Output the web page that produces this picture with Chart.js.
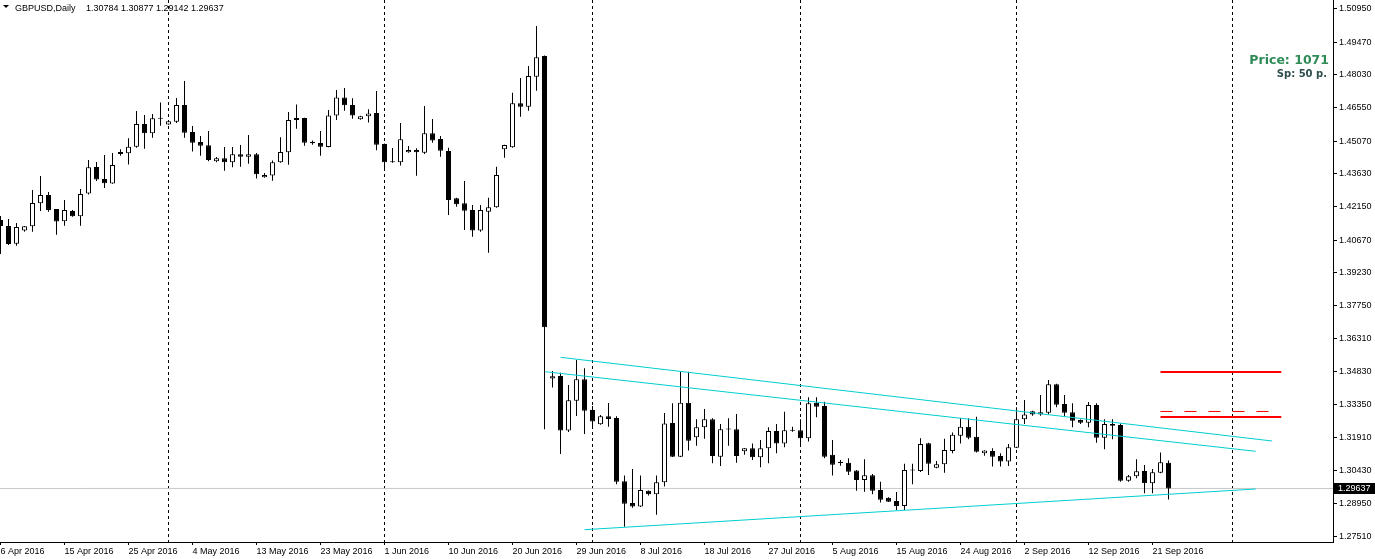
<!DOCTYPE html>
<html>
<head>
<meta charset="utf-8">
<title>GBPUSD Daily</title>
<script src="https://cdn.jsdelivr.net/npm/chart.js@4.4.1/dist/chart.umd.min.js"></script>
<style>
  html, body { margin: 0; padding: 0; background: #fff; }
  #wrap { width: 1375px; height: 559px; position: relative; }
</style>
</head>
<body>
<div id="wrap"><canvas id="chart"></canvas></div>
<script>
// GBPUSD daily bars, 6 Apr 2016 .. 23 Sep 2016 (broker feed includes Sunday bars)
const opens = [
  1.4157,1.4130,1.4052,1.4110,1.4129,1.4231,1.4268,1.4206,1.4151,1.4197,
  1.4174,1.4275,1.4393,1.4339,1.4319,1.4459,1.4454,1.4483,1.4584,1.4543,
  1.4609,1.4582,1.4594,1.4668,1.4548,1.4504,1.4489,1.4418,1.4431,1.4414,
  1.4449,1.4438,1.4449,1.4347,1.4355,1.4414,1.4458,1.4610,1.4610,1.4505,
  1.4499,1.4482,1.4622,1.4702,1.4668,1.4605,1.4618,1.4633,1.4495,1.4414,
  1.4414,1.4458,1.4468,1.4456,1.4543,1.4517,1.4464,1.4254,1.4231,1.4202,
  1.4110,1.4194,1.4214,1.4471,1.4480,1.4676,1.4661,1.4794,1.4886,1.3452,
  1.3464,1.3221,1.3354,1.3449,1.3313,1.3249,1.3285,1.3277,1.2996,1.2899,
  1.2883,1.2953,1.2938,1.2991,1.3255,1.3105,1.3345,1.3191,1.3236,1.3271,
  1.3105,1.3227,1.3227,1.3129,1.3142,1.3102,1.3142,1.3219,1.3164,1.3221,
  1.3222,1.3187,1.3345,1.3330,1.3113,1.3078,1.3078,1.3043,1.3001,1.3022,
  1.2957,1.2922,1.2908,1.2886,1.3045,1.3041,1.3165,1.3056,1.3071,1.3130,
  1.3198,1.3238,1.3194,1.3120,1.3130,1.3108,1.3083,1.3145,1.3271,1.3307,
  1.3293,1.3300,1.3427,1.3339,1.3302,1.3268,1.3256,1.3335,1.3189,1.3250,
  1.3246,1.2998,1.3018,1.3041,1.2987,1.3034,1.30784
];
const highs = [
  1.4175,1.4162,1.4144,1.4130,1.4290,1.4353,1.4281,1.4206,1.4246,1.4202,
  1.4295,1.4424,1.4415,1.4446,1.4455,1.4471,1.4520,1.4642,1.4624,1.4628,
  1.4679,1.4598,1.4699,1.4775,1.4575,1.4530,1.4553,1.4437,1.4482,1.4482,
  1.4491,1.4535,1.4455,1.4366,1.4421,1.4525,1.4637,1.4670,1.4612,1.4510,
  1.4553,1.4646,1.4735,1.4744,1.4698,1.4620,1.4649,1.4731,1.4497,1.4477,
  1.4588,1.4486,1.4476,1.4664,1.4606,1.4530,1.4478,1.4256,1.4330,1.4224,
  1.4224,1.4256,1.4394,1.4492,1.4723,1.4788,1.4842,1.5019,1.4888,1.3486,
  1.3478,1.3424,1.3535,1.3498,1.3330,1.3290,1.3344,1.3285,1.3021,1.3050,
  1.3021,1.2955,1.3021,1.3299,1.3342,1.3483,1.3483,1.3271,1.3317,1.3276,
  1.3250,1.3276,1.3295,1.3144,1.3164,1.3179,1.3236,1.3250,1.3305,1.3238,
  1.3271,1.3369,1.3369,1.3349,1.3179,1.3090,1.3098,1.3046,1.3093,1.3028,
  1.2994,1.2925,1.2948,1.3073,1.3073,1.3187,1.3167,1.3086,1.3185,1.3213,
  1.3277,1.3276,1.3283,1.3134,1.3142,1.3120,1.3161,1.3325,1.3357,1.3309,
  1.3379,1.3446,1.3429,1.3379,1.3342,1.3270,1.3348,1.3342,1.3271,1.3271,
  1.3253,1.3024,1.3093,1.3068,1.3050,1.3123,1.30877
];
const lows = [
  1.4006,1.4046,1.4043,1.4105,1.4105,1.4197,1.4194,1.4092,1.4132,1.4172,
  1.4132,1.4270,1.4330,1.4299,1.4318,1.4443,1.4404,1.4478,1.4474,1.4523,
  1.4576,1.4580,1.4588,1.4523,1.4461,1.4443,1.4418,1.4414,1.4376,1.4391,
  1.4394,1.4407,1.4341,1.4345,1.4332,1.4412,1.4403,1.4563,1.4487,1.4492,
  1.4443,1.4480,1.4602,1.4643,1.4607,1.4603,1.4591,1.4467,1.4381,1.4412,
  1.4399,1.4456,1.4354,1.4450,1.4501,1.4438,1.4179,1.4216,1.4113,1.4083,
  1.4105,1.4012,1.4212,1.4434,1.4478,1.4616,1.4643,1.4732,1.3227,1.3412,
  1.3117,1.3215,1.3286,1.3206,1.3238,1.3247,1.3238,1.2982,1.2794,1.2878,
  1.2881,1.2932,1.2847,1.2972,1.3103,1.3103,1.3132,1.3153,1.3185,1.3076,
  1.3064,1.3153,1.3078,1.3113,1.3090,1.3058,1.3076,1.3120,1.3147,1.3216,
  1.3153,1.3172,1.3280,1.3098,1.3021,1.3065,1.3024,1.2954,1.2949,1.2938,
  1.2901,1.2903,1.2868,1.2868,1.2982,1.3037,1.3024,1.3054,1.3034,1.3120,
  1.3164,1.3182,1.3123,1.3109,1.3061,1.3061,1.3064,1.3143,1.3250,1.3287,
  1.3287,1.3293,1.3325,1.3286,1.3236,1.3250,1.3236,1.3167,1.3138,1.3182,
  1.2994,1.2994,1.3009,1.2942,1.2942,1.3031,1.29142
];
const closes = [
  1.4130,1.4050,1.4126,1.4129,1.4233,1.4268,1.4202,1.4150,1.4202,1.4174,
  1.4273,1.4392,1.4337,1.4320,1.4402,1.4450,1.4483,1.4584,1.4543,1.4609,
  1.4607,1.4596,1.4668,1.4545,1.4501,1.4487,1.4424,1.4431,1.4414,1.4449,
  1.4438,1.4449,1.4360,1.4357,1.4414,1.4459,1.4602,1.4602,1.4501,1.4498,
  1.4483,1.4622,1.4702,1.4667,1.4622,1.4618,1.4631,1.4492,1.4414,1.4415,
  1.4516,1.4468,1.4458,1.4543,1.4510,1.4465,1.4246,1.4227,1.4198,1.4110,
  1.4202,1.4214,1.4357,1.4490,1.4676,1.4661,1.4797,1.4880,1.3680,1.3462,
  1.3221,1.3356,1.3449,1.3309,1.3261,1.3285,1.3273,1.2994,1.2896,1.2883,
  1.2957,1.2938,1.2991,1.3253,1.3105,1.3345,1.3176,1.3236,1.3271,1.3108,
  1.3227,1.3226,1.3108,1.3142,1.3102,1.3142,1.3219,1.3164,1.3222,1.3220,
  1.3187,1.3342,1.3327,1.3105,1.3069,1.3077,1.3038,1.3001,1.3022,1.2954,
  1.2913,1.2905,1.2886,1.3046,1.3044,1.3161,1.3073,1.3071,1.3135,1.3203,
  1.3238,1.3189,1.3127,1.3132,1.3105,1.3083,1.3147,1.3271,1.3293,1.3292,
  1.3302,1.3427,1.3336,1.3300,1.3265,1.3256,1.3335,1.3189,1.3250,1.3243,
  1.2998,1.3018,1.3040,1.2987,1.3036,1.3080,1.29637
];

// time axis: one label every 8 bars, month separators at first bar of month
const dateTickIdx = [0,8,16,24,32,40,48,56,64,72,80,88,96,104,112,120,128,136,144];
const dateLabels = ['6 Apr 2016','15 Apr 2016','25 Apr 2016','4 May 2016','13 May 2016','23 May 2016',
  '1 Jun 2016','10 Jun 2016','20 Jun 2016','29 Jun 2016','8 Jul 2016','18 Jul 2016','27 Jul 2016',
  '5 Aug 2016','15 Aug 2016','24 Aug 2016','2 Sep 2016','12 Sep 2016','21 Sep 2016'];
const monthStartIdx = [21, 48, 74, 100, 127, 154];

// price axis labels
const priceTicks = [1.50950,1.49470,1.48030,1.46550,1.45070,1.43630,1.42150,1.40670,1.39230,
  1.37750,1.36310,1.34830,1.33350,1.31910,1.30430,1.28950,1.27510];

// drawn objects: trend lines [x0, y0, x1, y1] in bar index / price
const channelTop = [70.0, 1.35467, 158.96, 1.31746];
const channelMid = [68.1, 1.34827, 156.9, 1.31288];
const channelLow = [73.0, 1.27804, 156.9, 1.29613];
// horizontal levels [x0, x1, price]
const levelHigh = [145.0, 160.1, 1.34814];
const levelDash = [145.0, 159.1, 1.33058];
const levelLow  = [145.0, 160.1, 1.32813];

const symbolName = 'GBPUSD,Daily';
const priceInfo = 1071;
const spreadInfo = 50;

const xMin = -0.0625, xMax = 166.5625;
const yMin = 1.27257, yMax = 1.51350;

const idx = closes.map((c, i) => i);
const lastClose = closes[closes.length - 1];
const last = closes.length - 1;

const wickData = idx.map(i => ({ x: i, y: [lows[i], highs[i]] }));
const bodyData = idx.map(i => ({ x: i, y: [Math.min(opens[i], closes[i]), Math.max(opens[i], closes[i])] }));
const bodyFill = idx.map(i => closes[i] >= opens[i] ? '#ffffff' : '#000000');

function seg(a) { return [{ x: a[0], y: a[1] }, { x: a[2], y: a[3] }]; }
function hline(a) { return [{ x: a[0], y: a[2] }, { x: a[1], y: a[2] }]; }

function zeroPad(scale) {
    scale.paddingLeft = 0; scale.paddingRight = 0;
    scale.paddingTop = 0; scale.paddingBottom = 0;
}

const overlay = {
    id: 'overlay',
    afterDraw(chart) {
        const ctx = chart.ctx;
        const ys = chart.scales.y;
        const area = chart.chartArea;
        ctx.save();
        // header
        ctx.fillStyle = '#000';
        ctx.beginPath();
        ctx.moveTo(3, 5); ctx.lineTo(9, 5); ctx.lineTo(6, 8); ctx.closePath();
        ctx.fill();
        ctx.font = '9px "Liberation Sans"';
        ctx.textBaseline = 'alphabetic';
        ctx.fillText(symbolName, 15, 11);
        ctx.fillText([opens[last], highs[last], lows[last], closes[last]].map(v => v.toFixed(5)).join(' '), 86, 11);
        // bid price tag
        const py = Math.round(ys.getPixelForValue(lastClose));
        ctx.fillRect(area.right + 1, py - 5, 42, 11);
        ctx.fillStyle = '#fff';
        ctx.textBaseline = 'middle';
        ctx.fillText(lastClose.toFixed(5), area.right + 5, py + 1);
        // price / spread info
        ctx.textAlign = 'right';
        ctx.textBaseline = 'alphabetic';
        ctx.font = 'bold 12.5px "DejaVu Sans"';
        ctx.fillStyle = '#2e8b57';
        ctx.fillText('Price: ' + priceInfo, 1329, 64);
        ctx.font = 'bold 10px "DejaVu Sans"';
        ctx.fillStyle = '#2f4f4f';
        ctx.fillText('Sp: ' + spreadInfo + ' p.', 1327, 77);
        ctx.restore();
    }
};

Chart.defaults.font.family = '"Liberation Sans", Arial, sans-serif';
Chart.defaults.font.size = 9;
Chart.defaults.color = '#000';

const lineBase = { type: 'line', pointRadius: 0, borderWidth: 1, tension: 0, fill: false, order: 0 };

new Chart(document.getElementById('chart'), {
    type: 'bar',
    data: {
        datasets: [
            { ...lineBase, label: 'bid', data: [{ x: xMin, y: lastClose }, { x: xMax, y: lastClose }], borderColor: '#c8c8c8', order: 5 },
            { type: 'bar', label: 'wicks', data: wickData, backgroundColor: '#000', borderWidth: 0,
              grouped: false, maxBarThickness: 1, minBarLength: 1, order: 3 },
            { type: 'bar', label: 'bodies', data: bodyData, backgroundColor: bodyFill, borderColor: '#000',
              borderWidth: 1, borderSkipped: false, grouped: false, maxBarThickness: 5, minBarLength: 1, order: 2 },
            { ...lineBase, label: 'channel top', data: seg(channelTop), borderColor: '#00ced1' },
            { ...lineBase, label: 'channel mid', data: seg(channelMid), borderColor: '#00ced1' },
            { ...lineBase, label: 'channel low', data: seg(channelLow), borderColor: '#00ced1' },
            { ...lineBase, label: 'level high', data: hline(levelHigh), borderColor: '#ff0000', borderWidth: 2 },
            { ...lineBase, label: 'level dash', data: hline(levelDash), borderColor: '#ff0000', borderDash: [12, 12] },
            { ...lineBase, label: 'level low', data: hline(levelLow), borderColor: '#ff0000', borderWidth: 2 }
        ]
    },
    options: {
        responsive: true,
        maintainAspectRatio: false,
        animation: false,
        devicePixelRatio: 1,
        layout: { padding: 0 },
        plugins: {
            legend: { display: false },
            tooltip: { enabled: false },
            title: { display: false }
        },
        scales: {
            x: {
                type: 'linear',
                position: 'bottom',
                offset: false,
                min: xMin,
                max: xMax,
                afterBuildTicks: (scale) => { scale.ticks = dateTickIdx.map(v => ({ value: v })); },
                afterFit: (scale) => { scale.height = 17; zeroPad(scale); },
                grid: { offset: false, drawOnChartArea: false, drawTicks: true, tickLength: 3, color: '#000' },
                border: { color: '#000' },
                ticks: {
                    autoSkip: false, maxRotation: 0, align: 'start', padding: 1,
                    callback: (value, index) => dateLabels[index]
                }
            },
            xsep: {
                type: 'linear',
                position: 'bottom',
                offset: false,
                min: xMin,
                max: xMax,
                afterBuildTicks: (scale) => { scale.ticks = monthStartIdx.map(v => ({ value: v })); },
                afterFit: (scale) => { scale.height = 0; zeroPad(scale); },
                grid: { offset: false, drawOnChartArea: true, drawTicks: false, color: '#000' },
                border: { display: false, dash: [3, 3] },
                ticks: { display: false }
            },
            y: {
                type: 'linear',
                position: 'right',
                min: yMin,
                max: yMax,
                afterBuildTicks: (scale) => { scale.ticks = priceTicks.map(v => ({ value: v })); },
                afterFit: (scale) => { scale.width = 42; zeroPad(scale); },
                grid: { drawOnChartArea: false, drawTicks: true, tickLength: 4, color: '#000' },
                border: { color: '#000' },
                ticks: { padding: 2, callback: (value) => Number(value).toFixed(5) }
            }
        }
    },
    plugins: [overlay]
});
</script>
</body>
</html>
